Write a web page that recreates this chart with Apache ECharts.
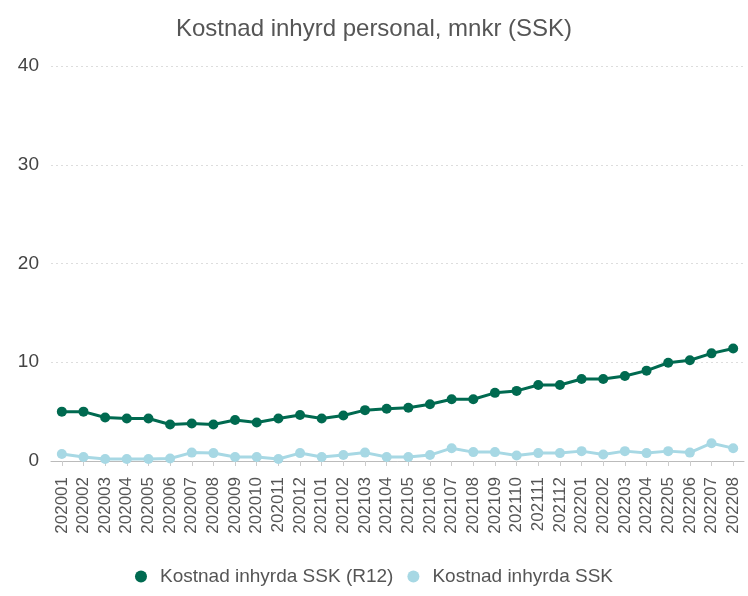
<!DOCTYPE html>
<html><head><meta charset="utf-8">
<script src="https://cdn.jsdelivr.net/npm/echarts@6/dist/echarts.min.js"></script>
<style>html,body{margin:0;padding:0;background:#fff}#c{width:748px;height:596px}</style>
</head><body><div id="c"></div>
<script>
const categories = ["202001","202002","202003","202004","202005","202006","202007","202008","202009","202010","202011","202012","202101","202102","202103","202104","202105","202106","202107","202108","202109","202110","202111","202112","202201","202202","202203","202204","202205","202206","202207","202208"];
const r12Values = [5.0,5.0,4.4,4.3,4.3,3.7,3.8,3.7,4.15,3.9,4.3,4.65,4.3,4.6,5.15,5.3,5.4,5.75,6.25,6.25,6.9,7.1,7.7,7.7,8.3,8.3,8.6,9.15,9.95,10.2,10.9,11.4];
const monthValues = [0.7,0.4,0.2,0.2,0.2,0.25,0.85,0.8,0.4,0.4,0.2,0.8,0.4,0.6,0.85,0.4,0.4,0.6,1.3,0.9,0.9,0.55,0.8,0.8,1.0,0.65,1.0,0.8,1.0,0.85,1.8,1.3];
const yTicks = [0,10,20,30,40];
const seriesNames = ["Kostnad inhyrda SSK (R12)","Kostnad inhyrda SSK"];
const titleText = "Kostnad inhyrd personal, mnkr (SSK)";

const chart = echarts.init(document.getElementById('c'), null, {renderer:'canvas'});
const font = "'Liberation Sans',Arial,sans-serif";
chart.setOption({
  animation:false,
  title:{text:titleText,left:'center',top:12,textStyle:{fontFamily:font,fontSize:24,fontWeight:'normal',color:'#555'}},
  grid:{left:51,right:4,top:66,bottom:135},
  legend:{bottom:5,left:'center',icon:'circle',itemWidth:12,itemHeight:12,itemGap:14,
    textStyle:{fontFamily:font,fontSize:19,color:'#555',padding:[0,0,0,8]},data:seriesNames},
  xAxis:{type:'category',data:categories,boundaryGap:true,
    axisLine:{lineStyle:{color:'#bbb',width:1}},
    axisTick:{show:true,alignWithLabel:true,length:5,lineStyle:{color:'#ccc'}},
    axisLabel:{rotate:90,interval:0,fontFamily:font,fontSize:17,color:'#555',margin:16}},
  yAxis:{type:'value',min:yTicks[0],max:yTicks[yTicks.length-1],interval:10,
    axisLine:{show:false},axisTick:{show:false},
    axisLabel:{fontFamily:font,fontSize:19,color:'#444',margin:12},
    splitLine:{lineStyle:{color:'#ddd',type:[2,3],width:1}}},
  series:[
    {name:seriesNames[0],type:'line',data:r12Values,symbol:'circle',symbolSize:10,
      lineStyle:{width:3,color:'#006a50'},itemStyle:{color:'#006a50'}},
    {name:seriesNames[1],type:'line',data:monthValues,symbol:'circle',symbolSize:10,
      lineStyle:{width:3,color:'#a7d8e4'},itemStyle:{color:'#a7d8e4'}}
  ]
});
</script></body></html>
